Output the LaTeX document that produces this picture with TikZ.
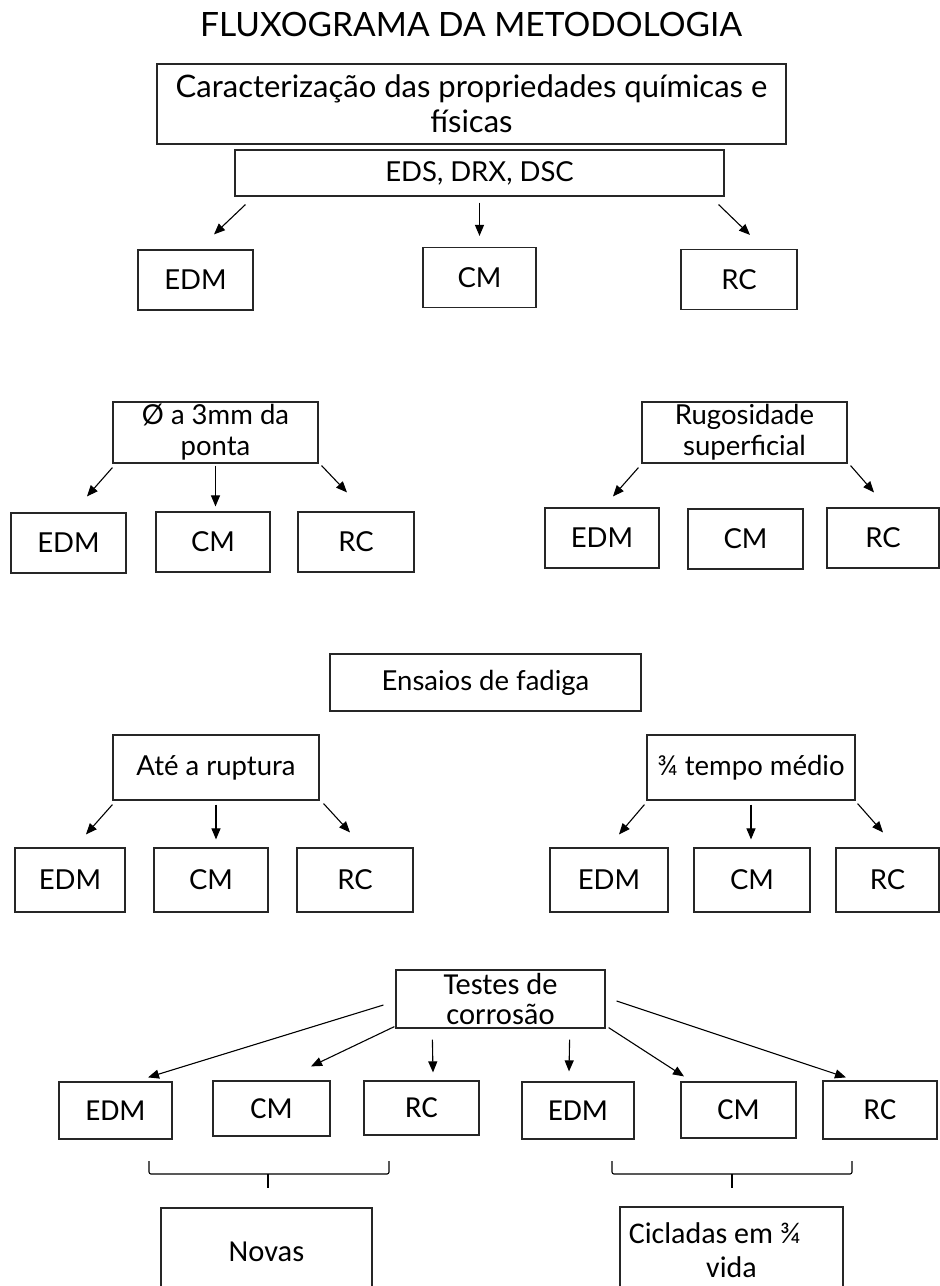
\documentclass[tikz,border=0pt]{standalone}
\usepackage{fontspec}
\setmainfont{Lato}
\newfontfamily\calibri{Carlito}
\usetikzlibrary{arrows.meta}

\begin{document}
\begin{tikzpicture}[x=1pt,y=-1pt]
\tikzstyle{caixa}=[draw=black!85, line width=1.2pt, align=center, inner sep=0pt,
  font=\fontsize{27.5}{31}\selectfont]
\tikzstyle{folha}=[caixa, minimum width=115pt, minimum height=60pt]
\tikzstyle{caixab}=[caixa, font=\calibri\fontsize{30.5}{30}\selectfont]
\tikzstyle{folhab}=[caixab, minimum width=115pt, minimum height=57pt]
\tikzstyle{seta}=[-{Triangle[length=11pt,width=9pt]}, line width=1.1pt]
\tikzstyle{chave}=[line width=1.1pt, rounded corners=2pt]
\useasboundingbox (0,0) rectangle (940,1286);
\clip (0,0) rectangle (940,1286);

% titulo
\node (titulo) at (471,25) {\fontsize{33.5}{38}\selectfont FLUXOGRAMA DA METODOLOGIA};

% caracterizacao
\node[caixa, minimum width=629pt, minimum height=80pt, font=\fontsize{31}{35}\selectfont]
  (carac) at (471.5,104) {Caracterização das propriedades químicas e\\físicas};
\node[caixa, minimum width=489pt, minimum height=46pt] (eds) at (479.5,173) {EDS, DRX, DSC};
\node[folha] (edmA) at (195.5,280) {EDM};
\node[folha, minimum width=113pt] (cmA) at (479.5,277.5) {CM};
\node[folha, minimum width=116pt] (rcA) at (739,279.5) {RC};
\draw[seta] ([shift={(11,8)}]eds.south west) -- ([shift={(18.5,-15)}]edmA.north);
\draw[seta, shorten <=6pt, shorten >=11pt] (eds.south) -- (eds.south |- cmA.north);
\draw[seta] ([shift={(-6,8)}]eds.south east) -- ([shift={(11,-14)}]rcA.north);

% diametro
\node[caixa, minimum width=205pt, minimum height=61pt] (diam) at (215.5,432.5) {Ø a 3mm da\\ponta};
\node[folha] (edmB) at (68.5,543) {EDM};
\node[folha, minimum width=114pt] (cmB) at (213,542) {CM};
\node[folha, minimum width=116pt] (rcB) at (356,542) {RC};
\draw[seta] ([shift={(0,4)}]diam.south west) -- ([shift={(18.5,-16)}]edmB.north);
\draw[seta, shorten <=2pt, shorten >=5pt] (diam.south) -- (diam.south |- cmB.north);
\draw[seta] ([shift={(3,2)}]diam.south east) -- ([shift={(-9,-19)}]rcB.north);

% rugosidade
\node[caixa, minimum width=205pt, minimum height=61pt] (rug) at (744.5,432.5) {Rugosidade\\superficial};
\node[folha, minimum width=114pt] (edmC) at (602,538) {EDM};
\node[folha] (cmC) at (745.5,539) {CM};
\node[folha, minimum width=112pt] (rcC) at (883,538) {RC};
\draw[seta] ([shift={(-3,4)}]rug.south west) -- ([shift={(11,-11)}]edmC.north);
\draw[seta] ([shift={(3,2)}]rug.south east) -- ([shift={(-9,-15)}]rcC.north);

% fadiga
\node[caixa, minimum width=311pt, minimum height=57pt] (ens) at (485.5,682.5) {Ensaios de fadiga};
\node[caixa, minimum width=206pt, minimum height=65pt] (ate) at (216,767.5) {Até a ruptura};
\node[caixa, minimum width=208pt, minimum height=65pt] (tres) at (751,767.5) {¾ tempo médio};
\node[folha, minimum width=110pt, minimum height=64pt] (edmD) at (70,880) {EDM};
\node[folha, minimum width=114pt, minimum height=64pt] (cmD) at (211,880) {CM};
\node[folha, minimum width=116pt, minimum height=64pt] (rcD) at (355,880) {RC};
\node[folha, minimum width=118pt, minimum height=64pt] (edmE) at (609,880) {EDM};
\node[folha, minimum width=116pt, minimum height=64pt] (cmE) at (752,880) {CM};
\node[folha, minimum width=103pt, minimum height=64pt] (rcE) at (887.5,880) {RC};
\draw[seta] ([shift={(0,4)}]ate.south west) -- ([shift={(16,-13)}]edmD.north);
\draw[seta, shorten <=4pt, shorten >=8pt] (ate.south) -- (ate.south |- cmD.north);
\draw[seta] ([shift={(4,3)}]ate.south east) -- ([shift={(-5,-15)}]rcD.north);
\draw[seta] ([shift={(-2,4)}]tres.south west) -- ([shift={(10,-13)}]edmE.north);
\draw[seta, shorten <=4pt, shorten >=8pt] (tres.south) -- (tres.south |- cmE.north);
\draw[seta] ([shift={(2,3)}]tres.south east) -- ([shift={(-4.5,-15)}]rcE.north);

% corrosao
\node[caixab, minimum width=209pt, minimum height=58pt] (tes) at (500.5,999) {Testes de\\corrosão};
\node[folhab, minimum width=113pt] (edmF) at (115.5,1110.5) {EDM};
\node[folhab, minimum width=117pt, minimum height=55pt] (cmF) at (271.5,1108.5) {CM};
\node[folhab, minimum height=54pt] (rcF) at (421.5,1108) {RC};
\node[folhab, minimum width=112pt] (edmG) at (578,1110.5) {EDM};
\node[folhab, minimum height=56pt] (cmG) at (738.5,1110) {CM};
\node[folhab, minimum width=114pt, minimum height=58pt] (rcG) at (880,1110) {RC};
\draw[seta] ([shift={(-12,6)}]tes.west) -- ([shift={(32.5,-4)}]edmF.north);
\draw[seta] ([shift={(-1,-2)}]tes.south west) -- ([shift={(39.5,-14)}]cmF.north);
\draw[seta] ([shift={(37,11)}]tes.south west) -- ([shift={(11.5,-8)}]rcF.north);
\draw[seta] ([shift={(-36,11)}]tes.south east) -- ([shift={(-9,-10)}]edmG.north);
\draw[seta] ([shift={(3,-1)}]tes.south east) -- ([shift={(-54.5,-5)}]cmG.north);
\draw[seta] ([shift={(11,2)}]tes.east) -- ([shift={(-34,-3)}]rcG.north);

% chaves
\draw[chave] (149,1161) -- (149,1174) -- (389,1174) -- (389,1161);
\draw[chave] (268,1174) -- (268,1188);
\draw[chave] (612,1161) -- (612,1174) -- (852,1174) -- (852,1161);
\draw[chave] (732,1174) -- (732,1188);
\node[caixab, minimum width=211pt, minimum height=88pt] (novas) at (266.5,1252) {Novas};
\node[caixab, minimum width=223pt, minimum height=86pt, font=\calibri\fontsize{30}{34}\selectfont]
  (ciclad) at (731.5,1250) {Cicladas em ¾\hspace*{34pt}\\vida};
\end{tikzpicture}
\end{document}
